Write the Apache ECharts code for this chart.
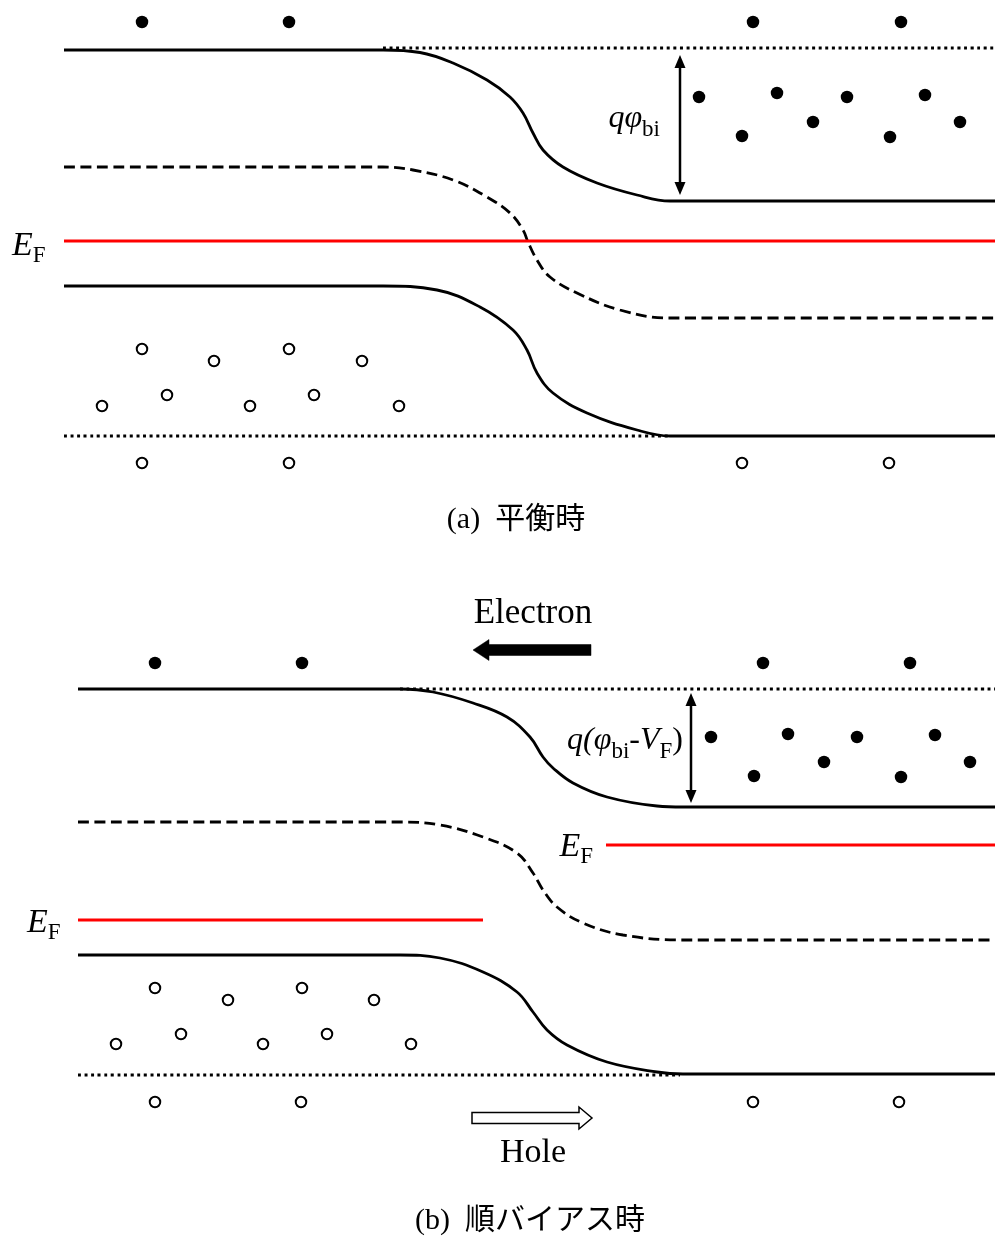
<!DOCTYPE html>
<html><head><meta charset="utf-8">
<script src="https://cdn.jsdelivr.net/npm/echarts@6/dist/echarts.min.js"></script>
<style>html,body{margin:0;padding:0;background:#fff}#c{width:995px;height:1238px}</style>
</head><body><div id="c"></div>
<script>
// ---------- Panel (a): equilibrium ----------
const aConduction = [[64,50],[383,50],[420,52.5],[453,63],[487,80],[510,97],[523,113],[533,133],[543,150],[563,167],[597,183],[637,195],[670,201],[995,201]];
const aIntrinsic  = [[64,167],[383,167],[413,170],[453,180],[487,197],[510,213],[523,230],[528,242],[537,260],[550,277],[577,293],[620,310],[670,318],[995,318]];
const aValence    = [[64,286],[383,286],[437,290],[480,307],[513,330],[527,350],[537,373],[553,393],[587,413],[637,430],[670,436],[995,436]];
const aFermi      = [[64,241],[995,241]];
const aVacTop     = [[383,48],[995,48]];
const aVacBottom  = [[64,436],[668,436]];
const aElectrons  = [[142,22],[289,22],[753,22],[901,22],[699,97],[777,93],[847,97],[925,95],[742,136],[813,122],[890,137],[960,122]];
const aHoles      = [[142,349],[214,361],[289,349],[362,361],[102,406],[167,395],[250,406],[314,395],[399,406],[142,463],[289,463],[742,463],[889,463]];

// ---------- Panel (b): forward bias ----------
const bConduction = [[78,689],[400,689],[433,692],[473,703],[507,717],[530,737],[543,757],[553,768],[573,783],[607,797],[657,806],[683,807],[995,807]];
const bIntrinsic  = [[78,822],[400,822],[440,825],[483,837],[517,853],[533,873],[543,890],[557,907],[583,923],[623,935],[683,940],[995,940]];
const bValence    = [[78,955],[400,955],[440,958],[483,972],[517,992],[533,1012],[547,1030],[567,1045],[607,1062],[657,1072],[683,1074],[995,1074]];
const bFermiLeft  = [[78,920],[483,920]];
const bFermiRight = [[606,845],[995,845]];
const bVacTop     = [[400,689],[995,689]];
const bVacBottom  = [[78,1075],[680,1075]];
const bElectrons  = [[155,663],[302,663],[763,663],[910,663],[711,737],[788,734],[857,737],[935,735],[754,776],[824,762],[901,777],[970,762]];
const bHoles      = [[155,988],[228,1000],[302,988],[374,1000],[116,1044],[181,1034],[263,1044],[327,1034],[411,1044],[155,1102],[301,1102],[753,1102],[899,1102]];

// arrows: [x1,y1,x2,y2]
const doubleArrows = [[680,55,680,195],[691,693,691,803]];
// block arrows: [tailX,tailY,tipX,tipY,filled]
const blockArrows  = [[591,650,473,650,1],[472,1118,592,1118,0]];

// texts
const labelTexts = {
  efA: '{e|E}{s|F}',
  efBL: '{e|E}{s|F}',
  efBR: '{e|E}{s|F}',
  qa: '{m|qφ}{s|bi}',
  qb: '{m|q(φ}{s|bi}{n|-}{m|V}{s|F}{n|)}',
  electron: 'Electron',
  hole: 'Hole',
  capA: '(a)  平衡時',
  capB: '(b)  順バイアス時'
};

const SERIF = "'Liberation Serif','Times New Roman','Noto Sans CJK JP',serif";
const richStyles = {
  e: {fontFamily: SERIF, fontStyle: 'italic', fontSize: 34, lineHeight: 34, verticalAlign: 'top', fill: '#000'},
  m: {fontFamily: SERIF, fontStyle: 'italic', fontSize: 32, lineHeight: 32, verticalAlign: 'top', fill: '#000'},
  n: {fontFamily: SERIF, fontSize: 32, lineHeight: 32, verticalAlign: 'top', fill: '#000'},
  s: {fontFamily: SERIF, fontSize: 23, lineHeight: 23, padding: [15,0,0,0], verticalAlign: 'top', fill: '#000'}
};
const textLayout = [
  {key: 'efA', pos: [12,246], align: 'left'},
  {key: 'efBL', pos: [27,923], align: 'left'},
  {key: 'efBR', pos: [593,847], align: 'right'},
  {key: 'qa', pos: [660,119], align: 'right'},
  {key: 'qb', pos: [683,741], align: 'right'},
  {key: 'electron', pos: [533,614], align: 'center', size: 35},
  {key: 'hole', pos: [533,1153], align: 'center', size: 34},
  {key: 'capA', pos: [516,520], align: 'center', size: 30},
  {key: 'capB', pos: [530,1221], align: 'center', size: 30}
];

function lineSeries(data, style) {
  return {type: 'line', data: data, showSymbol: false, silent: true,
    smooth: 0.4, lineStyle: style, z: 2};
}
const solid = {color: '#000', width: 2.8, type: 'solid', cap: 'butt'};
const dashed = {color: '#000', width: 2.8, type: [11, 5.5], cap: 'butt'};
const dotted = {color: '#000', width: 3, type: [3, 3.6], cap: 'butt'};
const red = {color: '#ff0000', width: 3, type: 'solid'};

const series = [
  lineSeries(aVacTop, dotted), lineSeries(aVacBottom, dotted),
  lineSeries(aConduction, solid), lineSeries(aIntrinsic, dashed), lineSeries(aValence, solid),
  lineSeries(aFermi, red),
  lineSeries(bVacTop, dotted), lineSeries(bVacBottom, dotted),
  lineSeries(bConduction, solid), lineSeries(bIntrinsic, dashed), lineSeries(bValence, solid),
  lineSeries(bFermiLeft, red), lineSeries(bFermiRight, red),
  {type: 'scatter', data: aElectrons.concat(bElectrons), symbol: 'circle', symbolSize: 12.5,
    itemStyle: {color: '#000', opacity: 1}, silent: true, z: 3},
  {type: 'scatter', data: aHoles.concat(bHoles), symbol: 'circle', symbolSize: 10.5,
    itemStyle: {color: '#fff', borderColor: '#000', borderWidth: 2, opacity: 1}, silent: true, z: 3},
  {type: 'custom', data: doubleArrows, silent: true, z: 4,
    encode: {x: [0, 2], y: [1, 3]},
    renderItem: function (params, api) {
      const p1 = api.coord([api.value(0), api.value(1)]);
      const p2 = api.coord([api.value(2), api.value(3)]);
      const dx = p2[0] - p1[0], dy = p2[1] - p1[1];
      const len = Math.hypot(dx, dy), ux = dx / len, uy = dy / len, nx = -uy, ny = ux;
      const L = 13, W = 5.5;
      const head = (t, sgn) => {
        const bx = t[0] + sgn * ux * L, by = t[1] + sgn * uy * L;
        return [[t[0], t[1]], [bx + nx * W, by + ny * W], [bx - nx * W, by - ny * W]];
      };
      return {type: 'group', children: [
        {type: 'line', shape: {x1: p1[0] + ux * 8, y1: p1[1] + uy * 8, x2: p2[0] - ux * 8, y2: p2[1] - uy * 8},
          style: {stroke: '#000', lineWidth: 2.5}},
        {type: 'polygon', shape: {points: head(p1, 1)}, style: {fill: '#000'}},
        {type: 'polygon', shape: {points: head(p2, -1)}, style: {fill: '#000'}}
      ]};
    }},
  {type: 'custom', data: blockArrows, silent: true, z: 4,
    encode: {x: [0, 2], y: [1, 3]},
    renderItem: function (params, api) {
      const t = api.coord([api.value(0), api.value(1)]);
      const p = api.coord([api.value(2), api.value(3)]);
      const filled = api.value(4) === 1;
      const dx = p[0] - t[0], dy = p[1] - t[1];
      const len = Math.hypot(dx, dy), ux = dx / len, uy = dy / len, nx = -uy, ny = ux;
      const h = 5.5, H = filled ? 10.5 : 11, L = filled ? 16 : 13;
      const bx = p[0] - ux * L, by = p[1] - uy * L;
      const pts = [
        [t[0] + nx * h, t[1] + ny * h], [bx + nx * h, by + ny * h], [bx + nx * H, by + ny * H],
        [p[0], p[1]], [bx - nx * H, by - ny * H], [bx - nx * h, by - ny * h], [t[0] - nx * h, t[1] - ny * h]
      ];
      return {type: 'polygon', shape: {points: pts},
        style: filled ? {fill: '#000', stroke: '#000', lineWidth: 0.5} : {fill: '#fff', stroke: '#000', lineWidth: 1.5}};
    }},
  {type: 'custom', data: textLayout.map(d => d.pos), silent: true, z: 5,
    renderItem: function (params, api) {
      const spec = textLayout[params.dataIndex];
      const pt = api.coord([api.value(0), api.value(1)]);
      const str = labelTexts[spec.key];
      const style = {text: str, align: spec.align, verticalAlign: 'middle', fill: '#000'};
      if (spec.size) {
        style.fontFamily = SERIF; style.fontSize = spec.size;
      } else {
        style.rich = richStyles;
      }
      return {type: 'text', x: pt[0], y: pt[1], style: style};
    }}
];

const chart = echarts.init(document.getElementById('c'), null, {renderer: 'canvas'});
chart.setOption({
  animation: false,
  backgroundColor: '#fff',
  grid: {left: 0, right: 0, top: 0, bottom: 0},
  xAxis: {type: 'value', min: 0, max: 995, show: false},
  yAxis: {type: 'value', min: 0, max: 1238, inverse: true, show: false},
  series: series
});
</script>
</body></html>
